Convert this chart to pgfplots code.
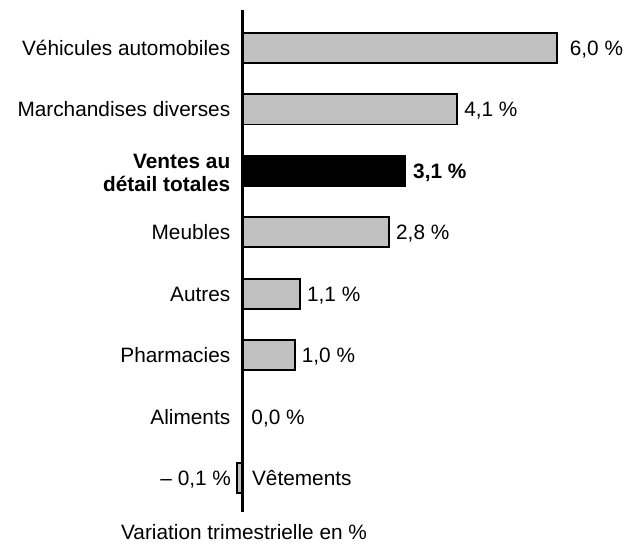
\documentclass[border=0pt]{standalone}
\usepackage{pgfplots}
\pgfplotsset{compat=1.18}
\usepackage{fontspec}
\setmainfont{Liberation Sans}
\definecolor{bargray}{RGB}{192,192,192}
\begin{document}
\fontsize{15.6}{18}\selectfont
\begin{tikzpicture}
\begin{axis}[
  width=475.5pt, height=408pt, scale only axis,
  hide axis, clip=false,
  xmin=-4.628, xmax=7.471,
  ymin=-0.781, ymax=8.074, y dir=reverse,
  bar width=0.49, bar shift=0pt,
  point meta=explicit symbolic,
  every node near coord/.append style={font=\fontsize{15.6}{18}\selectfont, inner sep=0pt},
]
\path (rel axis cs:0,0) rectangle (rel axis cs:1,1);
% bars
\addplot[xbar, fill=bargray, draw=black, line width=1.3pt] coordinates {
  (6.0,0) (4.1,1) (2.8,3) (1.1,4) (1.0,5) (0.0,6) (-0.1,7)};
\addplot[xbar, fill=black, draw=black, line width=1.3pt] coordinates {(3.1,2)};
% zero line
\draw[line width=2.7pt] (axis cs:0,-0.62) -- (axis cs:0,7.55);
% category labels (left)
\addplot[draw=none, nodes near coords,
  every node near coord/.append style={anchor=base east, xshift=-9pt, yshift=-5.6pt}]
  coordinates {(0,0) [Véhicules automobiles] (0,1) [Marchandises diverses]
  (0,3) [Meubles] (0,4) [Autres] (0,5) [Pharmacies] (0,6) [Aliments]};
\addplot[draw=none, nodes near coords,
  every node near coord/.append style={anchor=east, xshift=-9pt, yshift=-1.5pt, align=right, font=\fontsize{15.6}{17.6}\selectfont\bfseries}]
  coordinates {(0,2) [{Ventes au\\détail totales}]};
\addplot[draw=none, nodes near coords,
  every node near coord/.append style={anchor=base west, xshift=7pt, yshift=-5.6pt}]
  coordinates {(0,7) [Vêtements]};
% value labels
\addplot[draw=none, nodes near coords,
  every node near coord/.append style={anchor=base west, xshift=9.5pt, yshift=-5.6pt}]
  coordinates {(6.0,0) [{6,0 \%}]};
\addplot[draw=none, nodes near coords,
  every node near coord/.append style={anchor=base west, xshift=5pt, yshift=-5.6pt}]
  coordinates {(4.1,1) [{4,1 \%}] (2.8,3) [{2,8 \%}] (1.1,4) [{1,1 \%}] (1.0,5) [{1,0 \%}]};
\addplot[draw=none, nodes near coords,
  every node near coord/.append style={anchor=base west, xshift=6.5pt, yshift=-5.6pt}]
  coordinates {(0.0,6) [{0,0 \%}]};
\addplot[draw=none, nodes near coords,
  every node near coord/.append style={anchor=base west, xshift=6pt, yshift=-5.6pt, font=\fontsize{15.6}{18}\selectfont\bfseries}]
  coordinates {(3.1,2) [{3,1 \%}]};
\addplot[draw=none, nodes near coords,
  every node near coord/.append style={anchor=base east, xshift=-4.5pt, yshift=-5.6pt}]
  coordinates {(-0.1,7) [{– 0,1 \%}]};
\node[anchor=base] at (axis cs:0.03,8.0) {Variation trimestrielle en \%};
\end{axis}
\end{tikzpicture}
\end{document}
